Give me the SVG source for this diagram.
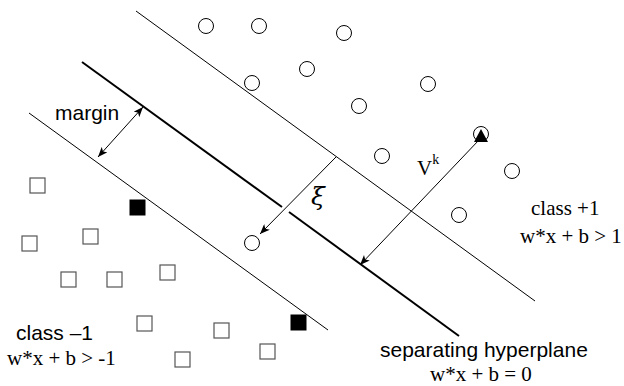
<svg xmlns="http://www.w3.org/2000/svg" width="624" height="386" viewBox="0 0 624 386">
<style>
.thin{stroke:#000;stroke-width:1;fill:none}
.thick{stroke:#000;stroke-width:2;fill:none}
.pt{stroke:#000;stroke-width:1;fill:#fff}
.sq{stroke:#555;stroke-width:1.2;fill:#fff}
.sqf{stroke:#000;stroke-width:1;fill:#000}
.sans{font-family:"Liberation Sans",Arial,sans-serif;font-size:21px;fill:#000}
.serif{font-family:"Liberation Serif","Times New Roman",serif;font-size:21px;fill:#000}
</style>
<defs>
<marker id="ah" markerWidth="10" markerHeight="8" refX="10" refY="4" orient="auto-start-reverse" markerUnits="userSpaceOnUse">
<path d="M0,0 L10,4 L0,8 L2.5,4 z" fill="#000"/>
</marker>
</defs>
<rect width="624" height="386" fill="#fff"/>
<g id="lines">
<line id="upper-margin" class="thin" x1="136" y1="11" x2="535" y2="301"/>
<line id="lower-margin" class="thin" x1="29" y1="113" x2="328" y2="330"/>
<g id="hyperplane">
<line class="thick" x1="82" y1="62" x2="282" y2="207"/>
<line class="thick" x1="289" y1="212" x2="459" y2="336"/>
</g>
</g>
<g id="connectors">
<line class="thin" x1="143" y1="107" x2="98" y2="157" marker-start="url(#ah)" marker-end="url(#ah)"/>
<line class="thin" x1="336" y1="157" x2="260" y2="234" marker-end="url(#ah)"/>
<line class="thin" x1="479" y1="140" x2="360" y2="265" marker-end="url(#ah)"/>
</g>
<g id="class-plus">
<circle class="pt" cx="206" cy="26" r="7.5"/>
<circle class="pt" cx="259" cy="26" r="7.5"/>
<circle class="pt" cx="344" cy="33" r="7.5"/>
<circle class="pt" cx="307" cy="69" r="7.5"/>
<circle class="pt" cx="252" cy="83" r="7.5"/>
<circle class="pt" cx="428" cy="84" r="7.5"/>
<circle class="pt" cx="359" cy="106" r="7.5"/>
<circle class="pt" cx="382" cy="156" r="7.5"/>
<circle class="pt" cx="512" cy="171" r="7.5"/>
<circle class="pt" cx="459" cy="215" r="7.5"/>
<circle class="pt" cx="252" cy="243" r="7.5"/>
<g id="vk-point">
<circle class="pt" cx="481" cy="134" r="7.5"/>
<polygon points="481,129 474,142 488,142" fill="#000"/>
</g>
</g>
<g id="class-minus">
<rect class="sq" x="30" y="178" width="15" height="15"/>
<rect class="sqf" x="130" y="200" width="15" height="15"/>
<rect class="sq" x="22" y="236" width="15" height="15"/>
<rect class="sq" x="83" y="229" width="15" height="15"/>
<rect class="sq" x="61" y="272" width="15" height="15"/>
<rect class="sq" x="107" y="272" width="15" height="15"/>
<rect class="sq" x="160" y="265" width="15" height="15"/>
<rect class="sq" x="137" y="316" width="15" height="15"/>
<rect class="sq" x="214" y="323" width="15" height="15"/>
<rect class="sq" x="260" y="344" width="15" height="15"/>
<rect class="sq" x="175" y="352" width="15" height="15"/>
<rect class="sqf" x="291" y="315" width="15" height="15"/>
</g>
<g id="labels">
<text class="sans" x="55" y="120">margin</text>
<text class="serif" x="417" y="175">V<tspan font-size="14" dy="-11">k</tspan></text>
<text x="311" y="205" font-family="DejaVu Serif,serif" font-style="italic" font-size="25" fill="#000">ξ</text>
<text class="serif" x="531" y="215">class +1</text>
<text class="serif" x="520" y="243">w*x + b &gt; 1</text>
<text class="sans" x="16" y="340">class –1</text>
<text class="serif" x="7" y="365">w*x + b &gt; -1</text>
<text class="sans" x="380" y="357">separating hyperplane</text>
<text class="serif" x="430" y="381">w*x + b = 0</text>
</g>
</svg>
